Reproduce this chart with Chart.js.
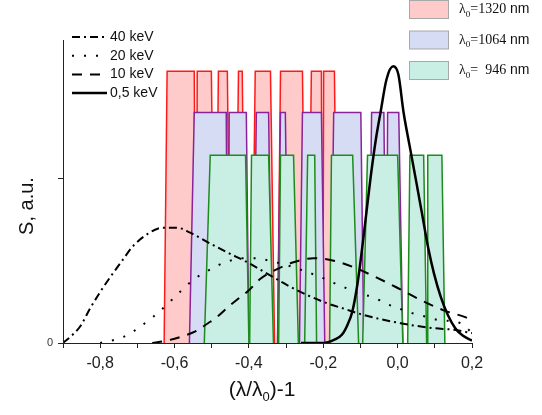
<!DOCTYPE html>
<html>
<head>
<meta charset="utf-8">
<script src="https://cdn.jsdelivr.net/npm/chart.js@4.4.1/dist/chart.umd.min.js"></script>
<style>
  html, body { margin: 0; padding: 0; background: #fff; }
  #wrap { width: 542px; height: 415px; position: relative; }
</style>
</head>
<body>
<div id="wrap"><canvas id="chart"></canvas></div>
<script>
// transmission windows, each [bottom-left, top-left, top-right, bottom-right] in (λ/λ0)-1
const win1320 = [
  [-0.628, -0.620, -0.547, -0.543],
  [-0.541, -0.539, -0.501, -0.492],
  [-0.490, -0.482, -0.458, -0.450],
  [-0.437, -0.428, -0.418, -0.410],
  [-0.392, -0.383, -0.342, -0.331],
  [-0.323, -0.315, -0.256, -0.247],
  [-0.241, -0.232, -0.205, -0.203],
  [-0.201, -0.199, -0.170, -0.162],
];
const win1064 = [
  [-0.560, -0.547, -0.461, -0.457],
  [-0.456, -0.453, -0.407, -0.400],
  [-0.388, -0.380, -0.347, -0.339],
  [-0.323, -0.315, -0.302, -0.294],
  [-0.264, -0.256, -0.205, -0.196],
  [-0.180, -0.172, -0.099, -0.091],
  [-0.078, -0.070, -0.037, -0.031],
  [-0.030, -0.027, 0.003, 0.014],
];
const win946 = [
  [-0.520, -0.504, -0.409, -0.400],
  [-0.398, -0.393, -0.347, -0.334],
  [-0.320, -0.315, -0.280, -0.267],
  [-0.250, -0.242, -0.223, -0.218],
  [-0.183, -0.178, -0.121, -0.105],
  [-0.094, -0.081, 0.000, 0.014],
  [0.027, 0.033, 0.070, 0.078],
  [0.079, 0.081, 0.119, 0.127],
];
const level1320 = 1.65;
const level1064 = 1.40;
const level946 = 1.14;

// electron spectra
const kev40X = [-0.9, -0.881, -0.854, -0.827, -0.800, -0.773, -0.741, -0.711, -0.674, -0.633, -0.593, -0.558,
  -0.509, -0.458, -0.404, -0.350, -0.296, -0.242, -0.188, -0.140, -0.099, 0.008, 0.097, 0.151, 0.2];
const kev40Y = [0, 0.036, 0.10, 0.21, 0.31, 0.40, 0.50, 0.59, 0.66, 0.70, 0.70, 0.67,
  0.61, 0.55, 0.49, 0.42, 0.35, 0.29, 0.24, 0.205, 0.175, 0.12, 0.09, 0.08, 0.06];

const kev20X = [-0.80, -0.760, -0.725, -0.692, -0.657, -0.622, -0.590, -0.552, -0.517, -0.485, -0.450, -0.415,
  -0.377, -0.347, -0.310, -0.280, -0.242, -0.207, -0.172, -0.140, -0.105, -0.067, -0.032, 0.003, 0.041, 0.076,
  0.108, 0.170, 0.2];
const kev20Y = [0, 0.02, 0.05, 0.10, 0.16, 0.23, 0.30, 0.38, 0.43, 0.47, 0.50, 0.515,
  0.515, 0.50, 0.48, 0.46, 0.43, 0.40, 0.365, 0.335, 0.30, 0.28, 0.24, 0.21, 0.18, 0.16,
  0.14, 0.12, 0.06];

const kev10X = [-0.66, -0.62, -0.58, -0.544, -0.51, -0.49, -0.45, -0.428, -0.40, -0.369, -0.323, -0.280,
  -0.226, -0.172, -0.118, -0.059, -0.005, 0.054, 0.122, 0.178, 0.2];
const kev10Y = [0, 0.015, 0.04, 0.07, 0.12, 0.15, 0.23, 0.27, 0.32, 0.39, 0.45, 0.49,
  0.515, 0.50, 0.46, 0.40, 0.34, 0.27, 0.20, 0.16, 0.14];

const kev05X = [-0.26, -0.20, -0.17, -0.15, -0.135, -0.122, -0.108, -0.092, -0.073, -0.059, -0.046, -0.030, -0.012,
  0.002, 0.016, 0.032, 0.050, 0.066, 0.082, 0.098, 0.116, 0.135, 0.155, 0.175, 0.2];
const kev05Y = [0, 0, 0.02, 0.05, 0.11, 0.19, 0.36, 0.64, 1.0, 1.23, 1.40, 1.60, 1.68,
  1.63, 1.40, 1.20, 0.98, 0.78, 0.58, 0.42, 0.28, 0.17, 0.09, 0.045, 0.015];

const curveLabels = ['40 keV', '20 keV', '10 keV', '0,5 keV'];
const laserLabels = ['=1320', '=1064', '=  946'];

const SANS = '"Liberation Sans", Arial, sans-serif';
const SERIF = '"Liberation Serif", "Times New Roman", serif';
const dashes = [[8, 4, 2, 4], [2, 10], [10, 8], []];
const widths = [2, 2, 2, 2.5];
const winStroke = ['#ff1a1a', '#8a2299', '#1d8c1d'];
const winFill = ['#ffcaca', '#d6dcf4', '#c9eee4'];

const zip = (xs, ys) => xs.map((x, i) => ({ x, y: ys[i] }));
const toPoints = (blocks, level) => blocks.flatMap(([bl, tl, tr, br]) => [
  { x: bl, y: 0 }, { x: tl, y: level }, { x: tr, y: level }, { x: br, y: 0 },
]);
const hideBase = {
  borderColor: (c) => (c.p0.parsed.y === 0 && c.p1.parsed.y === 0 ? 'rgba(0,0,0,0)' : undefined),
};

const curve = (xs, ys, i) => ({
  data: zip(xs, ys),
  borderColor: '#000',
  borderWidth: widths[i],
  borderDash: dashes[i],
  pointRadius: 0,
  fill: false,
  cubicInterpolationMode: 'monotone',
});
const windowSet = (blocks, level, i) => ({
  data: toPoints(blocks, level),
  borderColor: winStroke[i],
  backgroundColor: winFill[i],
  borderWidth: 1.5,
  pointRadius: 0,
  fill: 'origin',
  tension: 0,
  segment: hideBase,
});

const drawParts = (ctx, parts, x, y, align) => {
  let total = 0;
  for (const [text, font] of parts) {
    ctx.font = font;
    total += ctx.measureText(text).width;
  }
  let cx = align === 'center' ? x - total / 2 : x;
  ctx.textAlign = 'left';
  for (const [text, font, dy] of parts) {
    ctx.font = font;
    ctx.fillText(text, cx, y + dy);
    cx += ctx.measureText(text).width;
  }
};

const decor = {
  id: 'decor',
  afterDraw(chart) {
    const { ctx } = chart;
    ctx.save();
    ctx.fillStyle = '#111';
    ctx.textBaseline = 'middle';

    ctx.save();
    ctx.translate(27, 206);
    ctx.rotate(-Math.PI / 2);
    ctx.font = `20px ${SANS}`;
    ctx.textAlign = 'center';
    ctx.fillText('S, a.u.', 0, 0);
    ctx.restore();

    drawParts(ctx, [
      ['(λ/λ', `21px ${SANS}`, 0],
      ['0', `13px ${SANS}`, 7],
      [')-1', `21px ${SANS}`, 0],
    ], 262, 390, 'center');

    // spectra legend
    curveLabels.forEach((label, i) => {
      const y = 37 + i * 18.7;
      ctx.strokeStyle = '#000';
      ctx.lineWidth = widths[i];
      ctx.setLineDash(dashes[i]);
      ctx.beginPath();
      ctx.moveTo(72, y);
      ctx.lineTo(107, y);
      ctx.stroke();
      ctx.setLineDash([]);
      ctx.font = `14px ${SANS}`;
      ctx.textAlign = 'left';
      ctx.fillText(label, 110, y);
    });

    // laser legend
    laserLabels.forEach((label, i) => {
      const top = 0.5 + i * 30.5;
      ctx.fillStyle = winFill[i];
      ctx.fillRect(409, top, 39, 18);
      ctx.strokeStyle = '#a8a8a8';
      ctx.lineWidth = 1;
      ctx.strokeRect(409.5, top, 39, 18);
      ctx.fillStyle = '#111';
      drawParts(ctx, [
        ['λ', `14px ${SERIF}`, 0],
        ['0', `9px ${SERIF}`, 5],
        [label, `14px ${SERIF}`, 0],
        [' nm', `14px ${SANS}`, 0],
      ], 459, top + 9, 'left');
    });
    ctx.restore();
  },
};

new Chart(document.getElementById('chart'), {
  type: 'line',
  data: {
    datasets: [
      curve(kev40X, kev40Y, 0),
      curve(kev20X, kev20Y, 1),
      curve(kev10X, kev10Y, 2),
      curve(kev05X, kev05Y, 3),
      windowSet(win946, level946, 2),
      windowSet(win1064, level1064, 1),
      windowSet(win1320, level1320, 0),
    ],
  },
  options: {
    responsive: true,
    maintainAspectRatio: false,
    animation: false,
    layout: { padding: { top: 40, right: 70, left: 0, bottom: 0 } },
    plugins: { legend: { display: false }, tooltip: { enabled: false } },
    scales: {
      x: {
        type: 'linear',
        min: -0.9,
        max: 0.2,
        afterFit: (scale) => { scale.height = 72; },
        border: { display: true, color: '#222', width: 1, z: 1 },
        grid: { drawOnChartArea: false, tickLength: 5, color: '#222' },
        ticks: {
          stepSize: 0.1,
          autoSkip: false,
          maxRotation: 0,
          padding: 6,
          color: '#222',
          font: { family: SANS, size: 16 },
          callback: (v) => {
            const k = Math.round(v * 10);
            if (k % 2 !== 0) return '';
            return k === 0 ? '0,0' : (k / 10).toFixed(1).replace('.', ',');
          },
        },
      },
      y: {
        min: 0,
        max: 1.84,
        afterFit: (scale) => { scale.width = 63; },
        border: { display: true, color: '#222', width: 1, z: 1 },
        grid: { drawOnChartArea: false, tickLength: 5, color: '#222' },
        ticks: {
          stepSize: 1,
          includeBounds: false,
          padding: 5,
          color: '#333',
          font: { family: SANS, size: 11 },
          callback: (v) => (v === 0 ? '0' : ''),
        },
      },
    },
  },
  plugins: [decor],
});
</script>
</body>
</html>
